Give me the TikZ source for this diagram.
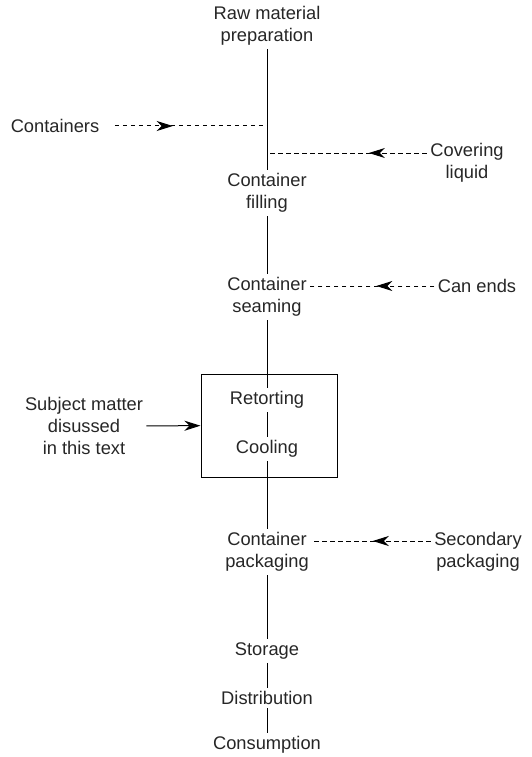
\documentclass[tikz,border=0pt]{standalone}
\usepackage{fontspec}
\setmainfont{Liberation Sans}
\usetikzlibrary{arrows.meta,decorations.markings}

\begin{document}
\begin{tikzpicture}[x=1pt,y=-1pt,line width=1pt,
  every node/.style={font=\fontsize{18.3}{22}\selectfont,align=center,inner sep=3pt,text=black!85},
  tip/.tip={Stealth[length=16pt,width=10pt,inset=5pt]},
  feed/.style={dash pattern=on 4.5pt off 3.5pt,postaction={decorate},
    decoration={markings,mark=at position 58pt with {\arrow{tip}}}}]
\useasboundingbox (0,0) rectangle (531,757);
\node (raw) at (267,26) {Raw material\\preparation};
\node (fill) at (267,193) {Container\\filling};
\node (seam) at (267,297) {Container\\seaming};
\node (box) [draw,minimum width=136pt,minimum height=103pt,inner sep=0pt] at (269,425.5) {};
\node (retort) at (267,400) {Retorting};
\node (cool) at (267,449) {Cooling};
\node (pack) at (267,552) {Container\\packaging};
\node (store) at (267,651) {Storage};
\node (distr) at (267,698) {Distribution};
\node (consum) at (267,745) {Consumption};
\node (cont) at (55,126) {Containers};
\node (cover) at (467,163) {Covering\\liquid};
\node (ends) at (477,286) {Can ends};
\node (second) at (478,552) {Secondary\\packaging};
\node (subj) at (84,426) {Subject matter\\disussed\\in this text};
\coordinate (lvlA) at (267,126);
\coordinate (lvlB) at (267,153);
\coordinate (lvlD) at (267,541);
\draw (raw) -- (fill);
\draw (fill) -- (seam);
\draw (seam) -- (retort);
\draw (retort) -- (cool);
\draw (cool) -- (pack);
\draw (pack) -- (store);
\draw (store) -- (distr);
\draw (distr) -- (consum);
\draw[feed] ([xshift=12pt]cont.east) -- (lvlA);
\draw[feed] (cover.west |- lvlB) -- (lvlB);
\draw[feed] (ends) -- (seam.east |- ends);
\draw[feed] (second.west |- lvlD) -- (pack.east |- lvlD);
\draw[-tip] (subj) -- (box);
\end{tikzpicture}
\end{document}
